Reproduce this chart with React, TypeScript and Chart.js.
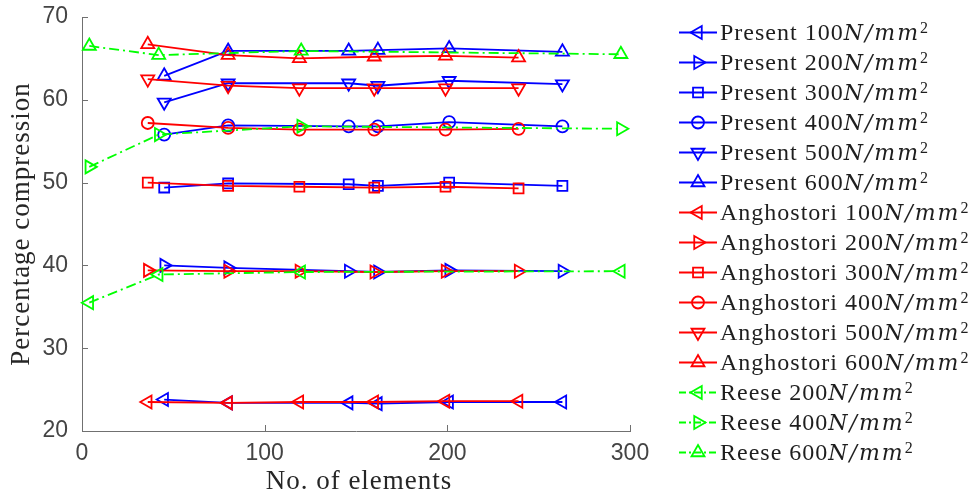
import React, { useEffect, useRef } from 'react';
import { Chart, registerables } from 'chart.js';

Chart.register(...registerables);

// ---- data ----
const presentX = [45, 80, 146, 162, 201, 263];
const anghostoriX = [36, 80, 119, 160, 199, 239];
const reeseX = [4, 42, 120, 295];

const present100 = [23.8, 23.4, 23.4, 23.3, 23.5, 23.5];
const present200 = [40.0, 39.7, 39.3, 39.2, 39.4, 39.3];
const present300 = [49.4, 49.9, 49.8, 49.6, 50.0, 49.6];
const present400 = [55.8, 56.9, 56.8, 56.8, 57.3, 56.8];
const present500 = [59.7, 62.0, 62.0, 61.7, 62.3, 61.9];
const present600 = [62.9, 65.9, 65.9, 66.0, 66.2, 65.8];

const anghostori100 = [23.5, 23.4, 23.5, 23.5, 23.6, 23.6];
const anghostori200 = [39.4, 39.3, 39.3, 39.2, 39.3, 39.3];
const anghostori300 = [50.0, 49.6, 49.5, 49.4, 49.5, 49.3];
const anghostori400 = [57.2, 56.6, 56.4, 56.4, 56.4, 56.5];
const anghostori500 = [62.5, 61.7, 61.4, 61.4, 61.4, 61.4];
const anghostori600 = [66.7, 65.4, 65.0, 65.2, 65.3, 65.1];

const reese200 = [35.5, 38.9, 39.2, 39.3];
const reese400 = [51.9, 55.8, 56.8, 56.5];
const reese600 = [66.5, 65.4, 65.9, 65.5];

const xTicks = [0, 100, 200, 300];
const yTicks = [20, 30, 40, 50, 60, 70];
const unitLabel = 'N/mm';
const unitPower = '2';
const xTitle = 'No. of elements';
const yTitle = 'Percentage compression';

const BLUE = '#0000ff';
const RED = '#ff0000';
const GREEN = '#00ff00';
const DASHDOT = [10, 4, 2, 4];
const AXIS = '#707070';

type SeriesDef = {
  label: string;
  xs: number[];
  ys: number[];
  color: string;
  style: string;
  rot: number;
  dash: number[];
};

const series: SeriesDef[] = [
  { label: 'Present 100', xs: presentX, ys: present100, color: BLUE, style: 'triangle', rot: 270, dash: [] },
  { label: 'Present 200', xs: presentX, ys: present200, color: BLUE, style: 'triangle', rot: 90, dash: [] },
  { label: 'Present 300', xs: presentX, ys: present300, color: BLUE, style: 'rect', rot: 0, dash: [] },
  { label: 'Present 400', xs: presentX, ys: present400, color: BLUE, style: 'circle', rot: 0, dash: [] },
  { label: 'Present 500', xs: presentX, ys: present500, color: BLUE, style: 'triangle', rot: 180, dash: [] },
  { label: 'Present 600', xs: presentX, ys: present600, color: BLUE, style: 'triangle', rot: 0, dash: [] },
  { label: 'Anghostori 100', xs: anghostoriX, ys: anghostori100, color: RED, style: 'triangle', rot: 270, dash: [] },
  { label: 'Anghostori 200', xs: anghostoriX, ys: anghostori200, color: RED, style: 'triangle', rot: 90, dash: [] },
  { label: 'Anghostori 300', xs: anghostoriX, ys: anghostori300, color: RED, style: 'rect', rot: 0, dash: [] },
  { label: 'Anghostori 400', xs: anghostoriX, ys: anghostori400, color: RED, style: 'circle', rot: 0, dash: [] },
  { label: 'Anghostori 500', xs: anghostoriX, ys: anghostori500, color: RED, style: 'triangle', rot: 180, dash: [] },
  { label: 'Anghostori 600', xs: anghostoriX, ys: anghostori600, color: RED, style: 'triangle', rot: 0, dash: [] },
  { label: 'Reese 200', xs: reeseX, ys: reese200, color: GREEN, style: 'triangle', rot: 270, dash: DASHDOT },
  { label: 'Reese 400', xs: reeseX, ys: reese400, color: GREEN, style: 'triangle', rot: 90, dash: DASHDOT },
  { label: 'Reese 600', xs: reeseX, ys: reese600, color: GREEN, style: 'triangle', rot: 0, dash: DASHDOT },
];

const markerRadius = (style: string) => (style === 'circle' ? 6 : style === 'rect' ? 7 : 7.5);

function drawMarker(ctx: CanvasRenderingContext2D, style: string, rot: number, x: number, y: number, r: number) {
  ctx.beginPath();
  if (style === 'circle') {
    ctx.arc(x, y, r, 0, Math.PI * 2);
  } else if (style === 'rect') {
    const s = r * Math.SQRT1_2;
    ctx.rect(x - s, y - s, 2 * s, 2 * s);
  } else {
    let rad = (rot * Math.PI) / 180;
    ctx.moveTo(x + Math.sin(rad) * r, y - Math.cos(rad) * r);
    rad += (2 * Math.PI) / 3;
    ctx.lineTo(x + Math.sin(rad) * r, y - Math.cos(rad) * r);
    rad += (2 * Math.PI) / 3;
    ctx.lineTo(x + Math.sin(rad) * r, y - Math.cos(rad) * r);
    ctx.closePath();
  }
  ctx.stroke();
}

const decorPlugin = {
  id: 'decor',
  afterDraw(chart: any) {
    const ctx: CanvasRenderingContext2D = chart.ctx;
    const xs = chart.scales.x;
    const ys = chart.scales.y;
    const { left, bottom, top, right } = chart.chartArea;
    ctx.save();
    // inward ticks
    ctx.strokeStyle = AXIS;
    ctx.lineWidth = 1;
    ctx.setLineDash([]);
    ctx.beginPath();
    xTicks.forEach((v) => {
      const px = Math.round(xs.getPixelForValue(v)) + 0.5;
      ctx.moveTo(px, bottom);
      ctx.lineTo(px, bottom - 6);
    });
    yTicks.forEach((v) => {
      const py = Math.round(ys.getPixelForValue(v)) + 0.5;
      ctx.moveTo(left, py);
      ctx.lineTo(left + 6, py);
    });
    ctx.stroke();

    // axis titles
    ctx.fillStyle = '#262626';
    (ctx as any).letterSpacing = '1px';
    ctx.font = '27px "Liberation Serif"';
    ctx.textAlign = 'center';
    ctx.textBaseline = 'alphabetic';
    ctx.fillText(xTitle, (left + right) / 2 + 3, 489);
    ctx.save();
    ctx.translate(29, (top + bottom) / 2);
    ctx.rotate(-Math.PI / 2);
    ctx.fillText(yTitle, 0, 0);
    ctx.restore();

    // legend
    ctx.textAlign = 'left';
    series.forEach((s, i) => {
      const rowY = 32.5 + 30 * i;
      ctx.strokeStyle = s.color;
      ctx.lineWidth = 1.8;
      ctx.setLineDash(s.dash.length ? [7, 3, 2, 3] : []);
      ctx.beginPath();
      ctx.moveTo(679, rowY);
      ctx.lineTo(717, rowY);
      ctx.stroke();
      ctx.setLineDash([]);
      drawMarker(ctx, s.style, s.rot, 698, rowY, markerRadius(s.style));
      ctx.fillStyle = '#1e1e1e';
      let tx = 720;
      const base = rowY + 7;
      ctx.font = '24px "Liberation Serif"';
      (ctx as any).letterSpacing = '1px';
      ctx.fillText(s.label, tx, base);
      tx += ctx.measureText(s.label).width;
      ctx.font = 'italic 22px "DejaVu Serif"';
      (ctx as any).letterSpacing = '2px';
      ctx.fillText(unitLabel, tx, base);
      tx += ctx.measureText(unitLabel).width;
      ctx.font = '16px "Liberation Serif"';
      (ctx as any).letterSpacing = '0px';
      ctx.fillText(unitPower, tx, base - 7);
    });
    ctx.restore();
  },
};

export default function App() {
  const ref = useRef<HTMLCanvasElement | null>(null);
  useEffect(() => {
    if (!ref.current) return;
    const datasets = series.map((s, i) => {
      const r = markerRadius(s.style);
      return {
        label: s.label,
        data: s.xs.map((x, j) => ({ x, y: s.ys[j] })),
        showLine: true,
        borderColor: s.color,
        backgroundColor: 'rgba(0,0,0,0)',
        borderWidth: 1.8,
        borderDash: s.dash,
        pointStyle: s.style,
        pointRotation: s.rot,
        pointRadius: r,
        pointHoverRadius: r,
        pointBorderColor: s.color,
        pointBackgroundColor: 'rgba(0,0,0,0)',
        pointBorderWidth: 1.8,
        tension: 0,
        clip: false,
        order: series.length - 1 - i,
      };
    });
    const chart = new Chart(ref.current, {
      type: 'scatter',
      data: { datasets },
      options: {
        animation: false,
        responsive: false,
        devicePixelRatio: 1,
        layout: { padding: { left: 0, top: 17, right: 342, bottom: 0 } },
        plugins: { legend: { display: false }, tooltip: { enabled: false } },
        scales: {
          x: {
            type: 'linear',
            min: 0,
            max: 300,
            afterFit: (scale: any) => {
              scale.height = 69;
              scale.paddingLeft = 0;
              scale.paddingRight = 0;
              scale.paddingTop = 0;
              scale.paddingBottom = 0;
            },
            afterBuildTicks: (scale: any) => {
              scale.ticks = xTicks.map((v) => ({ value: v }));
            },
            grid: { display: false, drawTicks: false },
            border: { display: true, color: AXIS, width: 1 },
            ticks: {
              color: '#444444',
              padding: 9,
              maxRotation: 0,
              font: { family: '"Liberation Sans", Arial, sans-serif', size: 23 },
            },
          },
          y: {
            type: 'linear',
            min: 20,
            max: 70,
            afterFit: (scale: any) => {
              scale.width = 82;
              scale.paddingLeft = 0;
              scale.paddingRight = 0;
              scale.paddingTop = 0;
              scale.paddingBottom = 0;
            },
            afterBuildTicks: (scale: any) => {
              scale.ticks = yTicks.map((v) => ({ value: v }));
            },
            grid: { display: false, drawTicks: false },
            border: { display: true, color: AXIS, width: 1 },
            ticks: {
              color: '#444444',
              padding: 14,
              font: { family: '"Liberation Sans", Arial, sans-serif', size: 23 },
            },
          },
        },
      },
      plugins: [decorPlugin],
    } as any);
    return () => chart.destroy();
  }, []);
  return (
    <canvas
      ref={ref}
      width={972}
      height={500}
      style={{ position: 'fixed', left: 0, top: 0, width: 972, height: 500, background: '#fff' }}
    />
  );
}
